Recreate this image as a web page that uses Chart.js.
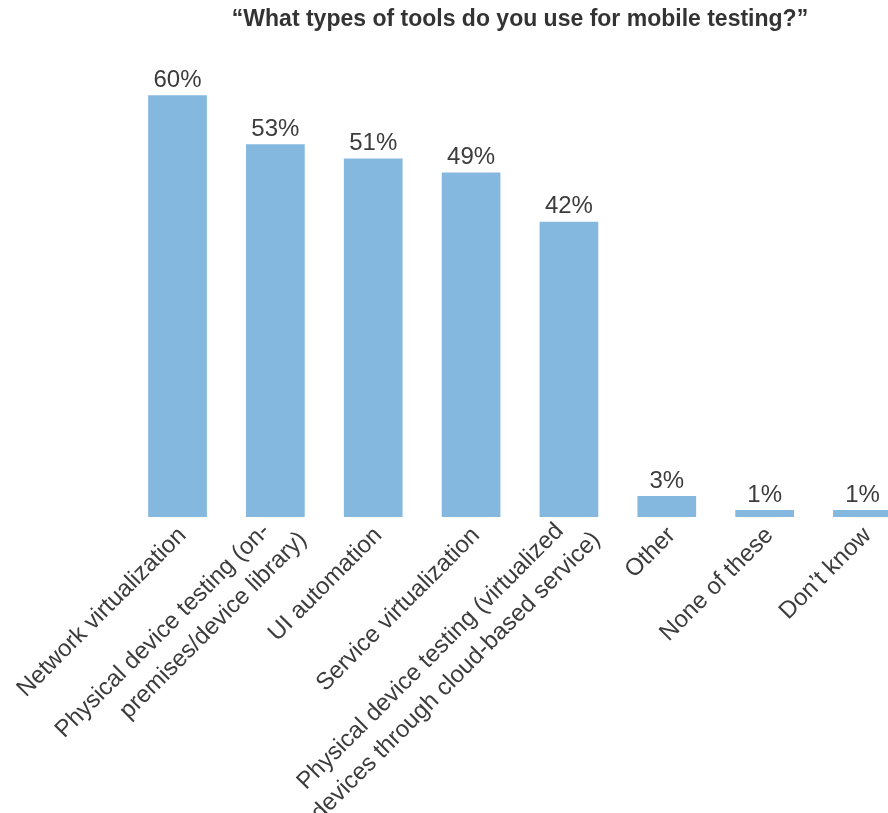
<!DOCTYPE html>
<html>
<head>
<meta charset="utf-8">
<script src="https://cdn.jsdelivr.net/npm/chart.js@4/dist/chart.umd.min.js"></script>
<style>
  html, body { margin: 0; padding: 0; background: #fff; overflow: hidden; }
  #wrap { width: 920px; height: 813px; }
</style>
</head>
<body>
<div id="wrap"><canvas id="chart" width="920" height="813"></canvas></div>
<script>
// Survey answers (percent of respondents)
// trailing spaces on first lines nudge the rotated two-line labels like the original
const categories = [
    'Network virtualization',
    ['Physical device testing (on-   ', 'premises/device library)'],
    'UI automation',
    'Service virtualization',
    ['Physical device testing (virtualized   ', 'devices through cloud-based service)'],
    'Other',
    'None of these',
    'Don\u2019t know'
];
const shares = [60, 53, 51, 49, 42, 3, 1, 1];
const chartTitle = '\u201cWhat types of tools do you use for mobile testing?\u201d';

const barColor = '#85b8de';
const textColor = '#3c3c3c';
const fontFamily = '"Liberation Sans", Arial, Helvetica, sans-serif';

// Draws the "60%" style labels above each bar
const valueLabels = {
    id: 'valueLabels',
    afterDatasetsDraw(chart) {
        const ctx = chart.ctx;
        const meta = chart.getDatasetMeta(0);
        ctx.save();
        ctx.font = '24px ' + fontFamily;
        ctx.fillStyle = textColor;
        ctx.textAlign = 'center';
        ctx.textBaseline = 'bottom';
        meta.data.forEach((bar, i) => {
            ctx.fillText(shares[i] + '%', bar.x, bar.y - 3);
        });
        ctx.restore();
    }
};

// Chart.js offsets rotated labels by half a line height, so single-line
// labels get a tall line height to sit level with the two-line ones
function tickFont(ctx) {
    const twoLines = Array.isArray(categories[ctx.index]);
    return { family: fontFamily, size: 24, lineHeight: twoLines ? 1.333 : 3.5 };
}

new Chart(document.getElementById('chart'), {
    type: 'bar',
    data: {
        labels: categories,
        datasets: [{
            data: shares,
            backgroundColor: barColor,
            barPercentage: 0.6,
            categoryPercentage: 1.0,
        }],
    },
    options: {
        responsive: false,
        animation: false,
        layout: { padding: { left: 128.6, right: 8.6, top: 0, bottom: 0 } },
        plugins: {
            legend: { display: false },
            tooltip: { enabled: false },
            title: {
                display: true,
                text: chartTitle,
                color: '#333',
                font: { family: fontFamily, size: 23, weight: 'bold', lineHeight: 1.2 },
                padding: { top: 6, bottom: 26.4 },
            },
        },
        scales: {
            x: {
                grid: { display: false, drawTicks: false },
                border: { display: false },
                ticks: {
                    color: textColor,
                    font: tickFont,
                    minRotation: 45,
                    maxRotation: 45,
                    autoSkip: false,
                    padding: -15,
                    labelOffset: 5,
                },
                afterFit: s => { s.height = 296; },
            },
            y: {
                display: false,
                min: 0,
                max: 65,
            },
        },
    },
    plugins: [valueLabels],
});
</script>
</body>
</html>
